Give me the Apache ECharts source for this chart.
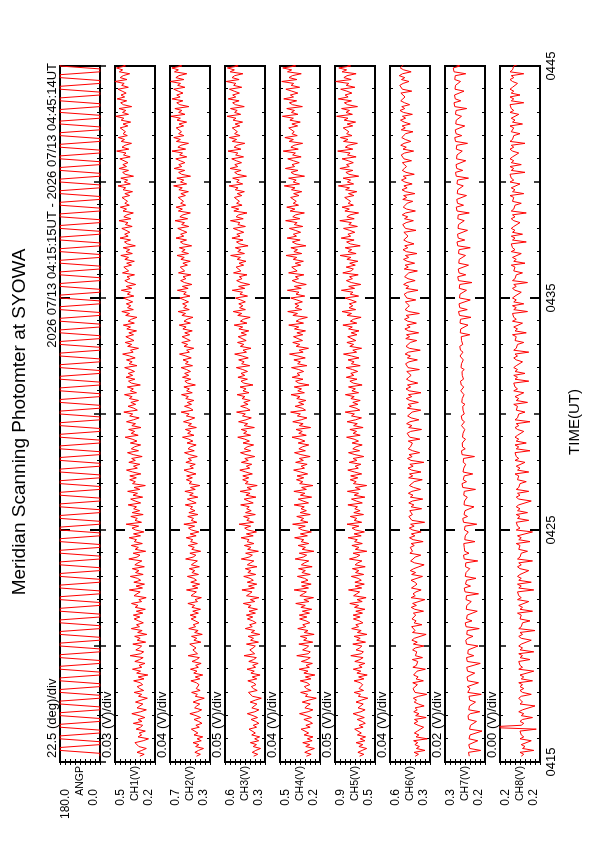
<!DOCTYPE html>
<html><head><meta charset="utf-8">
<script src="https://cdn.jsdelivr.net/npm/echarts@6.0.0/dist/echarts.min.js"></script>
<style>
html,body{margin:0;padding:0;width:595px;height:842px;overflow:hidden;background:#fff}
#chart{position:absolute;left:0;top:0;width:842px;height:595px;transform-origin:0 0;transform:translate(0,842px) rotate(-90deg)}
</style></head><body><div id="chart"></div>
<script>
const titleText = 'Meridian Scanning Photomter at SYOWA';
const periodText = '2026 07/13 04:15:15UT - 2026 07/13 04:45:14UT';
const axisTitle = 'TIME(UT)';
const channelNames = ['ANGP','CH1(V)','CH2(V)','CH3(V)','CH4(V)','CH5(V)','CH6(V)','CH7(V)','CH8(V)'];
const divLabels = ['22.5 (deg)/div','0.03 (V)/div','0.04 (V)/div','0.05 (V)/div','0.04 (V)/div','0.05 (V)/div','0.04 (V)/div','0.02 (V)/div','0.00 (V)/div'];
// axis ranges: ANGP in degrees, channels in mV
const yMin = [0, 210, 340, 260, 180, 500, 300, 170, 180];
const yMax = [180, 450, 660, 640, 500, 900, 620, 330, 212];
const yMaxLabels = ['180.0','0.5','0.7','0.6','0.5','0.9','0.6','0.3','0.2'];
const yMinLabels = ['0.0','0.2','0.3','0.3','0.2','0.5','0.3','0.2','0.2'];
const timeTickLabels = ['0415','0425','0435','0445'];
// sample times in minutes after 04:15
const angpStart = 0.25, angpStep = 0.125;
const chStart = 0.25, chStep = 1/12;

const angp = [0,0,180,180,0,0,180,180,0,0,180,180,0,0,180,180,0,0,180,180,
0,0,180,180,0,0,180,180,0,0,180,180,0,0,180,180,0,0,180,180,
0,0,180,180,0,0,180,180,0,0,180,180,0,0,180,180,0,0,180,180,
0,0,180,180,0,0,180,180,0,0,180,180,0,0,180,180,0,0,180,180,
0,0,180,180,0,0,180,180,0,0,180,180,0,0,180,180,0,0,180,180,
0,0,180,180,0,0,180,180,0,0,180,180,0,0,180,180,0,0,180,180,
0,0,180,180,0,0,180,180,0,0,180,180,0,0,180,180,0,0,180,180,
0,0,180,180,0,0,180,180,0,0,180,180,0,0,180,180,0,0,180,180,
0,0,180,180,0,0,180,180,0,0,180,180,0,0,180,180,0,0,180,180,
0,0,180,180,0,0,180,180,0,0,180,180,0,0,180,180,0,0,180,180,
0,0,180,180,0,0,180,180,0,0,180,180,0,0,180,180,0,0,180,180,
0,0,180,180,0,0,180,180,0,0,180,180,0,0,180,180,0,0,180,180];

const ch1 = [301,275,318,289,262,307,296,330,281,249,312,290,305,268,323,297,284,340,
288,312,271,305,349,296,262,318,301,283,327,294,256,309,290,335,278,302,
317,284,299,338,276,311,253,320,297,345,289,306,270,331,302,281,359,296,
278,325,304,290,343,266,317,299,332,259,314,287,352,303,321,280,309,335,
301,340,283,322,268,329,312,351,290,307,263,336,318,299,364,285,324,273,
337,296,315,358,281,327,306,346,274,331,312,289,367,318,300,341,266,329,
310,352,286,334,321,365,297,339,277,326,348,308,383,291,330,316,355,281,
347,302,338,321,371,296,329,356,284,342,315,374,301,336,268,345,328,362,
322,361,295,344,381,316,339,301,367,328,350,287,341,375,309,352,334,296,
358,318,347,389,311,353,332,368,294,349,327,381,340,305,362,344,397,316,
337,372,326,355,309,364,347,393,321,358,340,376,298,352,369,331,384,344,
371,333,359,392,318,366,347,381,329,362,404,341,357,309,374,350,389,336,
348,385,339,367,321,379,357,400,334,371,352,318,386,363,409,340,375,355,
382,344,371,399,337,376,358,412,349,383,326,369,391,361,378,333,405,368,
359,397,351,380,334,391,369,415,346,384,362,401,328,376,393,357,420,371,
392,361,384,409,347,388,372,426,355,397,379,340,402,381,418,364,391,375,
370,408,362,391,345,402,386,432,358,394,374,415,339,389,404,369,425,381,
403,372,396,421,359,399,384,440,367,408,390,351,413,393,430,376,402,387,
381,419,373,402,356,413,397,445,369,405,385,426,350,400,416,380,437,392,
414,383,407,432,370,410,395,451,378,419,401,362,424,404,441,387,413,398];

const ch2 = [448,417,461,432,392,455,429,476,410,443,398,468,437,421,489,426,453,404,
431,468,415,452,501,439,407,463,446,422,475,436,386,458,441,487,419,450,
465,428,449,493,421,458,398,470,444,496,433,455,411,484,447,425,515,440,
426,477,452,437,502,413,469,446,488,402,463,435,510,455,474,428,458,491,
451,499,433,478,416,485,463,517,440,460,409,492,471,449,528,437,481,423,
494,448,470,521,432,485,461,506,425,489,467,441,535,475,453,501,415,486,
466,514,441,495,478,530,451,499,429,487,512,463,549,445,490,472,518,436,
509,460,498,479,538,451,488,521,437,503,474,541,458,496,421,508,487,529,
481,527,452,507,548,473,501,458,533,488,514,442,503,544,466,516,495,451,
524,477,510,560,468,519,493,537,449,514,488,552,503,462,529,507,571,476,
499,544,488,522,469,534,513,568,482,527,505,549,457,521,541,494,560,510,
543,496,528,571,480,537,514,556,490,533,584,505,527,470,548,519,566,498,
514,563,503,542,482,557,531,586,497,548,524,476,565,536,595,506,551,527,
559,512,546,582,500,551,530,601,515,561,485,544,575,533,556,493,592,543,
532,578,521,557,498,573,546,604,512,566,539,585,487,553,577,528,612,550,
575,525,562,598,510,567,544,620,519,581,557,497,593,561,611,535,575,552,
548,594,537,573,513,589,562,631,527,576,550,605,496,567,591,542,627,566,
590,541,578,614,526,583,560,644,535,597,573,512,609,577,630,549,591,568,
563,610,551,588,527,604,577,652,540,591,565,621,509,582,606,557,643,579,
606,556,594,630,541,599,576,657,549,613,589,526,624,593,645,565,607,584];

const ch3 = [368,329,381,347,302,372,341,399,320,358,311,386,352,333,412,340,371,318,
349,392,331,374,428,356,318,385,366,337,401,353,295,379,360,417,334,370,
390,346,369,423,338,381,307,394,362,431,349,377,325,414,368,342,459,358,
341,404,373,352,436,322,397,369,421,309,391,358,447,381,406,344,376,427,
376,437,351,412,332,421,392,466,357,399,318,436,408,383,479,361,417,338,
429,371,401,462,348,423,393,447,336,428,399,366,485,411,380,444,323,425,
393,456,365,431,411,487,372,437,341,422,453,396,506,369,433,409,463,352,
445,391,434,410,491,372,419,458,346,441,402,496,389,431,334,448,420,472,
414,471,380,443,499,405,437,386,484,419,452,357,441,493,396,457,430,368,
469,408,452,519,397,463,432,486,361,458,425,511,441,390,474,447,530,402,
434,491,421,462,401,478,451,525,412,469,440,497,374,461,488,427,517,452,
488,426,471,532,405,482,458,510,419,477,548,436,469,393,494,461,521,439,
452,515,437,487,414,508,472,553,431,494,466,401,519,481,562,446,502,470,
509,447,491,540,426,498,474,571,452,511,406,487,529,478,504,431,559,489,
476,534,463,507,441,524,493,586,455,519,489,542,421,500,531,469,574,497,
528,462,513,561,446,518,498,588,467,534,511,431,556,509,579,478,530,503,
494,551,480,524,456,543,516,601,472,529,505,567,436,521,548,487,592,519,
547,483,533,576,464,539,518,611,489,553,528,452,571,530,599,497,549,522,
513,571,500,544,473,563,536,620,491,549,524,588,457,541,567,506,609,538,
567,503,553,598,481,558,537,629,506,573,548,470,591,551,617,515,569,542];

const ch4 = [289,251,302,268,225,294,262,318,243,281,236,307,271,257,331,259,293,240,
266,309,248,291,344,275,237,301,284,258,322,270,210,297,279,335,251,288,
305,262,284,338,253,297,221,309,276,347,265,292,241,329,283,258,366,275,
258,319,289,271,349,238,311,284,337,227,306,276,358,294,318,262,291,343,
285,346,264,321,246,333,298,374,268,309,232,341,314,289,387,272,327,251,
331,276,303,361,258,325,297,352,243,329,305,270,379,314,287,346,229,323,
297,355,270,331,310,383,281,337,249,322,352,298,399,276,335,311,366,258,
339,289,332,306,387,272,316,354,247,337,301,389,289,327,236,343,318,368,
310,364,279,335,391,304,331,283,375,313,346,259,333,384,297,349,322,270,
355,301,341,404,290,350,322,372,255,346,315,398,331,284,361,337,415,296,
322,379,310,351,293,366,340,412,305,358,328,386,268,350,375,316,403,341,
364,311,350,408,285,359,337,389,298,357,424,315,347,272,371,342,398,320,
332,392,318,365,296,384,350,430,312,371,344,281,397,360,438,326,379,349,
381,321,365,414,302,372,348,441,330,385,290,362,403,352,377,309,431,363,
347,406,334,378,313,394,366,452,326,389,360,413,293,372,401,339,443,368,
393,335,378,425,318,386,363,455,341,398,376,305,419,381,446,352,394,370,
359,415,348,391,326,408,380,466,344,394,371,431,304,387,412,356,457,383,
404,346,392,438,331,399,377,474,354,413,389,319,427,393,461,362,405,386,
372,430,359,405,338,421,393,481,356,409,384,446,321,400,425,367,470,392,
417,357,405,453,343,411,391,486,365,428,402,330,440,407,478,374,419,396];

const ch5 = [655,612,671,629,583,661,622,689,601,648,594,676,637,618,703,619,659,597,
628,678,607,663,719,641,599,670,652,618,690,637,572,667,645,708,614,659,
672,623,648,709,611,664,578,681,642,717,629,661,601,702,650,619,742,637,
616,689,653,631,722,595,683,648,709,580,676,638,733,664,692,621,657,716,
649,719,625,692,601,705,664,752,628,679,589,714,683,654,765,633,699,607,
701,637,668,737,613,695,661,726,598,699,672,631,756,684,651,719,582,697,
660,731,627,704,677,769,638,709,606,694,729,661,780,633,708,682,747,615,
712,649,702,675,771,627,687,735,601,708,665,776,648,697,583,716,688,748,
672,743,633,705,772,667,698,641,758,680,719,612,701,765,654,722,691,628,
729,665,709,784,648,719,684,751,619,714,677,779,695,635,735,706,798,652,
689,756,671,722,648,741,708,796,664,731,696,765,629,718,751,680,787,712,
742,673,725,790,648,736,709,770,660,733,815,684,722,634,752,714,781,692,
700,773,681,738,660,764,727,821,682,747,716,639,779,735,830,693,760,722,
757,687,740,801,664,748,721,836,704,763,642,737,786,726,755,668,822,739,
716,788,697,753,671,781,741,849,689,770,733,798,648,747,784,709,838,743,
771,702,754,815,676,762,736,852,708,781,750,664,801,757,829,716,768,744,
729,803,711,765,682,794,755,866,714,776,744,819,663,760,791,721,851,757,
785,717,768,829,689,775,749,873,722,797,766,676,815,770,846,730,784,761,
741,818,723,779,694,808,770,884,726,790,755,834,675,774,806,735,867,769,
799,731,781,843,701,788,762,893,738,811,780,689,829,784,862,743,797,775];

const ch6 = [418,392,427,340,409,385,421,398,431,322,412,389,425,401,416,351,395,428,
397,424,331,415,388,430,402,419,347,393,426,408,433,391,326,420,404,436,
429,401,438,353,412,395,431,420,404,337,437,409,424,398,441,360,417,430,
406,439,418,348,433,402,445,425,410,331,440,419,403,447,365,428,411,444,
446,414,433,352,422,450,409,439,427,341,452,418,436,412,371,448,425,404,
421,452,438,360,447,415,458,430,441,347,423,455,436,419,374,461,440,428,
458,426,451,355,435,464,421,449,371,438,466,427,455,343,445,432,469,441,
433,462,367,451,429,470,440,358,457,436,473,445,376,431,465,450,427,362,
471,438,464,372,447,476,435,461,349,452,480,443,468,383,439,474,456,445,
441,474,381,462,448,483,455,368,471,445,487,460,389,451,479,466,443,374,
482,450,475,393,461,490,447,473,372,466,492,455,480,398,459,488,470,451,
455,486,385,476,462,495,468,401,481,457,499,473,378,466,492,480,458,406,
494,463,488,391,472,501,459,485,409,478,504,467,491,385,470,499,482,465,
468,497,414,486,473,506,479,396,493,469,511,484,419,476,503,491,470,401,
506,474,499,423,483,512,471,497,404,489,516,478,502,428,480,510,495,476,
480,509,412,497,485,518,491,433,504,478,522,496,417,487,514,502,483,438,
518,486,511,421,495,524,483,509,443,501,528,490,514,426,492,522,505,488,
492,521,448,509,497,530,503,431,516,490,534,508,453,498,526,514,495,436,
530,498,523,458,507,536,495,521,441,513,540,502,526,463,504,534,517,500,
504,533,446,521,509,542,515,468,528,502,546,520,451,510,538,526,507,473];

const ch7 = [233,228,236,187,231,226,235,229,199,234,238,230,236,182,232,239,228,235,
204,236,231,238,229,191,235,240,232,237,208,231,238,234,185,239,236,230,
241,234,196,239,235,242,237,211,240,233,243,238,189,241,236,244,215,239,
245,237,242,198,244,240,247,238,218,243,248,241,193,246,242,249,222,244,
247,241,249,201,245,251,243,248,225,246,252,244,196,250,245,253,228,248,
251,244,206,249,254,246,252,231,248,255,247,199,253,249,256,234,251,246,
253,247,255,210,251,257,249,254,237,252,258,250,203,256,251,259,240,254,
256,250,258,214,254,260,252,257,241,255,261,253,208,259,254,262,244,257,
259,253,219,258,262,255,261,247,257,263,256,212,262,258,264,249,260,255,
261,256,248,260,263,258,262,251,259,264,257,252,262,259,265,253,261,258,
264,259,250,263,266,261,265,254,262,267,260,255,265,262,268,256,264,261,
267,262,253,266,269,264,268,257,265,270,263,258,268,265,271,259,267,264,
271,265,231,269,273,267,272,238,270,274,268,226,272,269,276,241,271,267,
274,268,229,272,277,270,275,244,273,278,271,222,276,272,279,247,274,270,
277,271,236,275,280,273,278,248,276,281,274,229,279,275,282,251,277,273,
280,274,240,278,283,276,281,253,279,284,277,233,282,278,285,256,280,276,
283,277,244,281,286,279,284,257,282,287,280,236,285,281,288,259,283,279,
286,280,247,284,289,282,287,261,285,290,283,240,288,284,291,263,286,282,
289,283,251,287,292,285,290,264,288,293,286,243,291,287,294,267,289,285,
292,286,254,290,295,288,293,268,291,296,289,247,294,290,297,271,292,288];

const ch8 = [195,193,196,185,194,192,195,194,187,196,193,195,194,196,183,225,195,193,
196,194,186,195,193,197,194,195,184,196,194,193,197,195,187,194,196,193,
196,194,197,186,195,193,196,195,185,197,194,196,195,197,188,196,194,197,
185,196,194,197,195,196,187,195,197,194,196,184,197,195,196,194,188,196,
197,195,198,186,196,194,197,196,189,198,195,197,196,198,185,197,195,198,
187,197,195,198,196,197,189,196,198,195,197,186,198,196,197,195,190,197,
198,196,199,188,197,195,198,197,186,199,196,198,197,199,189,198,196,199,
190,198,196,199,197,198,187,197,199,196,198,189,199,197,198,196,191,198,
199,197,200,189,198,196,199,198,192,200,197,199,198,200,188,199,197,200,
191,199,197,200,198,199,193,198,200,197,199,188,200,198,199,197,192,199,
200,198,201,190,199,197,200,199,193,201,198,200,199,201,189,200,198,201,
192,200,198,201,199,200,194,199,201,198,200,189,201,199,200,198,193,200,
201,199,202,191,200,198,201,200,194,202,199,201,200,202,190,201,199,202,
193,201,199,202,200,201,195,200,202,199,201,190,202,200,201,199,194,201,
202,200,203,192,201,199,202,201,195,203,200,202,201,203,191,202,200,203,
194,202,200,203,201,202,196,201,203,200,202,191,203,201,202,200,195,202,
203,201,204,193,202,200,203,202,196,204,201,203,202,204,192,203,201,204,
195,203,201,204,202,203,197,202,204,201,203,192,204,202,203,201,196,203,
203,201,204,194,202,200,203,202,197,204,201,203,202,204,193,203,201,204,
196,203,201,204,202,203,198,202,204,201,203,193,204,202,203,201,197,203];

const panelValues = [angp, ch1, ch2, ch3, ch4, ch5, ch6, ch7, ch8];

const FONT = "'Liberation Sans', Arial, sans-serif";
const grids = [], xAxes = [], yAxes = [], series = [];
for (let i = 0; i < 9; i++) {
  const top = 60 + 55 * i;
  grids.push({left: 80, right: 66, top: top, height: 40, show: true, borderColor: '#000', borderWidth: 2, backgroundColor: 'rgba(0,0,0,0)'});
  const last = i === 8;
  const base = {gridIndex: i, type: 'value', min: 0, max: 30, splitLine: {show: false}, axisLine: {show: false}};
  const t5 = {show: true, inside: true, length: 6, lineStyle: {color: '#000', width: 1.5}};
  const mt = {show: true, splitNumber: 5, length: 3, lineStyle: {color: '#000', width: 1}};
  const t10 = {show: true, inside: true, length: 10, lineStyle: {color: '#000', width: 2}};
  xAxes.push(Object.assign({}, base, {position: 'bottom', interval: 5, axisTick: t5, minorTick: mt, axisLabel: {show: false}}));
  xAxes.push(Object.assign({}, base, {position: 'top', interval: 5, axisTick: t5, minorTick: mt, axisLabel: {show: false}}));
  xAxes.push(Object.assign({}, base, {position: 'bottom', interval: 10, axisTick: t10,
    axisLabel: {show: last, margin: 5, fontSize: 13, color: '#000', fontFamily: FONT,
      formatter: v => timeTickLabels[Math.round(v / 10)]}}));
  xAxes.push(Object.assign({}, base, {position: 'top', interval: 10, axisTick: t10, axisLabel: {show: false}}));
  const mn = yMin[i], mx = yMax[i];
  const ticks = [];
  for (let k = 0; k <= 8; k++) ticks.push(mn + (mx - mn) * k / 8);
  const yt = {show: true, inside: true, length: 3, customValues: ticks, lineStyle: {color: '#000', width: 1}};
  yAxes.push({gridIndex: i, type: 'value', min: mn, max: mx, position: 'left',
    splitLine: {show: false}, axisLine: {show: false}, axisTick: yt,
    axisLabel: {customValues: [mn, mx], margin: 27, fontSize: 12, color: '#000', fontFamily: FONT,
      formatter: v => (Math.abs(v - mx) < 1e-6 ? yMaxLabels[i] : yMinLabels[i]),
      verticalAlignMaxLabel: 'top', verticalAlignMinLabel: 'bottom'}});
  yAxes.push({gridIndex: i, type: 'value', min: mn, max: mx, position: 'right',
    splitLine: {show: false}, axisLine: {show: false}, axisTick: yt, axisLabel: {show: false}});
  const vals = panelValues[i];
  const t0 = i === 0 ? angpStart : chStart, dt = i === 0 ? angpStep : chStep;
  series.push({type: 'line', xAxisIndex: 4 * i, yAxisIndex: 2 * i, symbol: 'none', showSymbol: false,
    data: vals.map((v, k) => [t0 + k * dt, v]), lineStyle: {color: '#ff0000', width: 1}, silent: true, animation: false});
}

const txt = (x, y, text, size, align, valign) => ({type: 'text', x: x, y: y, z: 100,
  style: {text: text, font: size + 'px ' + FONT, fill: '#000', align: align, verticalAlign: valign, textAlign: align, textVerticalAlign: valign}});
const graphics = [
  txt(420, 20, titleText, 19, 'center', 'middle'),
  txt(779, 59, periodText, 13, 'right', 'bottom'),
  txt(420, 575, axisTitle, 15, 'center', 'middle')
];
for (let i = 0; i < 9; i++) {
  graphics.push(txt(84, 59 + 55 * i, divLabels[i], 13, 'left', 'bottom'));
  graphics.push(txt(76, 80 + 55 * i, channelNames[i], 10.5, 'right', 'middle'));
}

const chart = echarts.init(document.getElementById('chart'), null, {renderer: 'canvas', width: 842, height: 595});
chart.setOption({
  animation: false,
  backgroundColor: '#fff',
  textStyle: {fontFamily: FONT},
  grid: grids, xAxis: xAxes, yAxis: yAxes, series: series, graphic: graphics
});
</script></body></html>
